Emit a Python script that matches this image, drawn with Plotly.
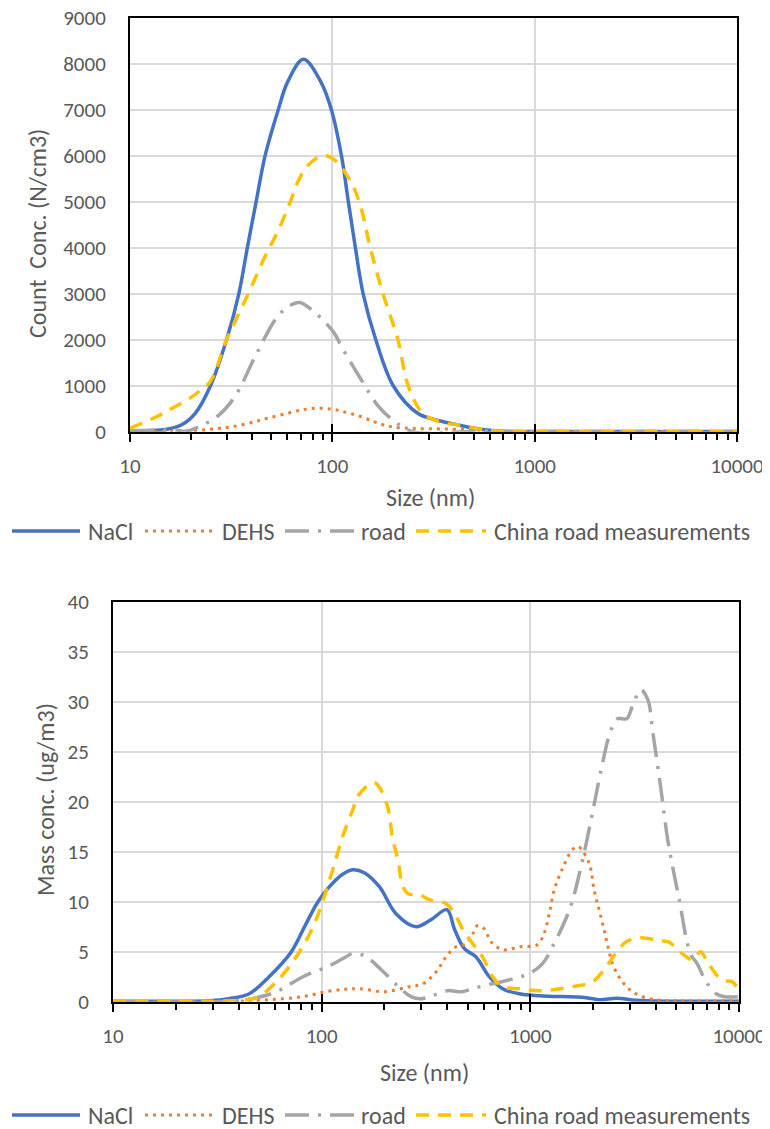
import plotly.graph_objects as go

# ---------------- data: top chart (count concentration, N/cm3) ----------------
nacl_cnt_size = [10, 15, 18, 21, 25, 30, 34.5, 38, 42, 46.5, 54, 60, 72, 88, 99, 111, 120, 130, 142, 164, 200, 264, 330, 415, 550, 700, 1000, 10000]
nacl_cnt = [20, 50, 150, 400, 1000, 2000, 3000, 4000, 5000, 6000, 7000, 7600, 8100, 7600, 7000, 6000, 5000, 4000, 3000, 2000, 1000, 400, 250, 150, 50, 10, 5, 5]

dehs_cnt_size = [10, 15, 18, 22, 27, 32, 40, 47.5, 60, 72, 84, 100, 115, 138, 160, 178, 200, 250, 350, 500, 700, 1000, 10000]
dehs_cnt = [5, 5, 10, 35, 70, 110, 200, 290, 400, 480, 510, 490, 430, 330, 220, 150, 100, 70, 60, 40, 10, 5, 5]

road_cnt_size = [10, 17, 19, 22, 27.5, 33.4, 41.7, 53.5, 62, 69, 81.6, 102, 111, 139, 169, 200, 250, 500, 10000]
road_cnt = [20, 30, 10, 110, 360, 800, 1650, 2500, 2750, 2810, 2600, 2150, 1850, 1130, 550, 250, 0, 5, 5]

china_cnt_size = [10, 13.6, 16, 19.8, 22, 25, 30, 38.4, 47.5, 53, 62, 67, 76, 89, 100, 123, 138, 154, 178, 211, 237, 280, 350, 415, 550, 700, 1000, 10000]
china_cnt = [80, 330, 500, 730, 880, 1100, 2000, 3000, 3900, 4300, 5000, 5400, 5800, 6000, 5950, 5450, 4900, 4000, 3000, 2000, 1000, 400, 200, 150, 50, 10, 5, 5]

# ---------------- data: bottom chart (mass concentration, ug/m3) ----------------
nacl_mass_size = [10, 20, 29, 36, 45, 56, 71.6, 82.8, 96, 109, 125, 141, 160, 189, 227, 283, 334, 398, 434, 483, 548, 636, 736, 884, 1107, 1850, 2150, 2600, 3200, 4500, 10000]
nacl_mass = [0.05, 0.05, 0.1, 0.3, 0.8, 2.5, 5.0, 7.5, 10.0, 11.5, 12.7, 13.2, 12.9, 11.5, 8.8, 7.5, 8.2, 9.2, 7.2, 5.3, 4.5, 2.5, 1.3, 0.8, 0.6, 0.4, 0.2, 0.35, 0.15, 0.05, 0.05]

dehs_mass_size = [10, 30, 40, 56, 81, 105, 130, 152, 200, 263, 306, 354, 395, 441, 494, 530, 557, 600, 648, 736, 897, 1080, 1163, 1232, 1302, 1425, 1590, 1700, 1915, 2020, 2135, 2257, 2345, 2478, 2716, 3088, 3716, 5000, 10000]
dehs_mass = [0, 0, 0.05, 0.2, 0.5, 1.0, 1.25, 1.3, 1.0, 1.5, 1.8, 3.0, 4.5, 5.5, 5.8, 6.8, 7.6, 7.3, 6.0, 5.2, 5.5, 5.7, 6.8, 8.8, 11.2, 13.3, 15.2, 15.5, 13.8, 11.2, 9.2, 7.2, 5.7, 3.8, 2.2, 1.0, 0.3, 0.1, 0.1]

road_mass_size = [10, 30, 40, 48.8, 60.7, 81.4, 109, 131, 140, 160, 193, 228, 268, 300, 340, 400, 470, 530, 624, 730, 860, 990, 1144, 1277, 1540, 1750, 1990, 2200, 2420, 2617, 2896, 3115, 3380, 3655, 3860, 4210, 4570, 5160, 5850, 6300, 6960, 7770, 8500, 10000]
road_mass = [0, 0, 0.1, 0.4, 1.0, 2.5, 3.6, 4.5, 4.8, 4.6, 3.2, 1.7, 0.5, 0.3, 0.6, 1.1, 1.0, 1.3, 1.7, 2.0, 2.4, 2.8, 3.8, 5.5, 9.2, 13.5, 19.0, 23.5, 27.0, 28.3, 28.3, 29.8, 31.2, 30.2, 27.0, 21.5, 16.0, 10.3, 4.8, 3.8, 2.0, 0.8, 0.5, 0.5]

china_mass_size = [10, 30, 40, 48.8, 60.7, 75.6, 91, 101.6, 113, 126, 141, 152, 179, 205, 219, 232, 245, 260, 294, 328, 395, 434, 475, 530, 589, 660, 736, 884, 1107, 1590, 1989, 2257, 2560, 2880, 3380, 4170, 4570, 5356, 5978, 6557, 7050, 7960, 8640, 9300, 10000]
china_mass = [0.05, 0.05, 0.15, 0.4, 2.0, 4.5, 7.5, 10.2, 13.2, 16.5, 19.2, 20.8, 21.9, 19.8, 16.2, 14.2, 11.5, 10.8, 10.7, 10.2, 9.8, 8.8, 7.2, 5.8, 4.5, 2.5, 1.5, 1.3, 1.1, 1.5, 2.0, 3.2, 4.8, 6.0, 6.4, 6.1, 6.0, 4.8, 4.2, 5.0, 4.0, 2.5, 2.1, 2.0, 1.1]

series_names = ["NaCl", "DEHS", "road", "China road measurements"]
x_tick_vals = [10, 100, 1000, 10000]
x_tick_text = ["10", "100", "1000", "10000"]
x_inner_ticks = [100, 1000]
x_minor_vals = [m * 10 ** e for e in range(1, 4) for m in range(2, 10)]
top_y_ticks = list(range(0, 9001, 1000))
bot_y_ticks = list(range(0, 41, 5))
top_y_title = "Count\u00a0\u00a0Conc. (N/cm3)"
bot_y_title = "Mass conc. (ug/m3)"
x_title = "Size (nm)"

# ---------------- styles ----------------
FONT = "Carlito, Calibri, Lato, sans-serif"
FS = 24          # titles / legend
FS_TICK = 21     # tick numbers
TXT = "#595959"
GRID = "#d9d9d9"
styles = [
    dict(color="#4472C4", width=3.5, dash="solid"),
    dict(color="#ED7D31", width=3.0, dash="3px,5px"),
    dict(color="#A5A5A5", width=3.5, dash="24px,9px,3px,9px"),
    dict(color="#FFC000", width=3.5, dash="13px,9px"),
]

# page has an 8px body margin: figure is offset by (8, 8)
OFF = 8
W, H = 770 - OFF, 1129 - OFF
def fx(v):
    return (v - OFF) / W
def fy(v):
    return 1 - (v - OFF) / H

fig = go.Figure()

top_sets = [(nacl_cnt_size, nacl_cnt), (dehs_cnt_size, dehs_cnt), (road_cnt_size, road_cnt), (china_cnt_size, china_cnt)]
bot_sets = [(nacl_mass_size, nacl_mass), (dehs_mass_size, dehs_mass), (road_mass_size, road_mass), (china_mass_size, china_mass)]

for name, (xs, ys), st in zip(series_names, top_sets, styles):
    fig.add_trace(go.Scatter(x=xs, y=ys, name=name, mode="lines", showlegend=False,
                             line=dict(shape="spline", smoothing=1.0, **st),
                             xaxis="x", yaxis="y"))
for name, (xs, ys), st in zip(series_names, bot_sets, styles):
    fig.add_trace(go.Scatter(x=xs, y=ys, name=name, mode="lines", showlegend=False,
                             line=dict(shape="spline", smoothing=1.0, **st),
                             xaxis="x2", yaxis="y2"))
# empty helper traces so the overlay axes (inner half of the major ticks) are drawn
fig.add_trace(go.Scatter(x=[], y=[], xaxis="x3", yaxis="y", showlegend=False, hoverinfo="skip"))
fig.add_trace(go.Scatter(x=[], y=[], xaxis="x4", yaxis="y2", showlegend=False, hoverinfo="skip"))

def xaxis_cfg(domain, anchor):
    return dict(type="log", range=[1, 4], domain=domain, anchor=anchor,
                tickmode="array", tickvals=x_tick_vals, ticktext=x_tick_text,
                ticks="outside", ticklen=8, tickwidth=2, tickcolor="black",
                minor=dict(tickmode="array", tickvals=x_minor_vals, ticks="outside",
                           ticklen=6, tickwidth=1.5, tickcolor="black", showgrid=False),
                showgrid=True, gridcolor=GRID, gridwidth=1.5,
                showline=True, linecolor="black", linewidth=2, mirror=True,
                tickfont=dict(family=FONT, size=FS_TICK, color=TXT),
                ticklabelstandoff=6, ticklabeloverflow="allow",
                automargin=False, zeroline=False, fixedrange=True)

def xaxis_inner_cfg(over, anchor):
    return dict(type="log", range=[1, 4], overlaying=over, anchor=anchor, side="bottom",
                tickmode="array", tickvals=x_inner_ticks, ticks="inside", ticklen=8,
                tickwidth=2, tickcolor="black", showticklabels=False, showgrid=False,
                showline=False, zeroline=False, automargin=False, fixedrange=True)

def yaxis_cfg(domain, anchor, rng, ticks):
    return dict(range=rng, domain=domain, anchor=anchor,
                tickmode="array", tickvals=ticks,
                ticks="", showgrid=True, gridcolor=GRID, gridwidth=1.5,
                showline=True, linecolor="black", linewidth=2, mirror=True,
                tickfont=dict(family=FONT, size=FS_TICK, color=TXT),
                ticklabelstandoff=18, ticklabeloverflow="allow",
                automargin=False, zeroline=False, fixedrange=True)

top_x = [fx(130), fx(737)]
top_y = [fy(431.7), fy(18)]
bot_x = [fx(113), fx(739)]
bot_y = [fy(1001.7), fy(601.7)]

tfont = dict(family=FONT, size=FS, color=TXT)
annotations = [
    dict(text=x_title, x=fx(430), y=fy(497), xanchor="center", yanchor="middle"),
    dict(text=x_title, x=fx(424), y=fy(1072), xanchor="center", yanchor="middle"),
    dict(text=top_y_title, x=fx(37), y=fy(234), textangle=-90, xanchor="center", yanchor="middle"),
    dict(text=bot_y_title, x=fx(45), y=fy(800), textangle=-90, xanchor="center", yanchor="middle"),
]

# custom legends (line sample + label) below each chart
legend_layout = [  # (sample start, sample end, label left) in page pixels
    (12, 80, 86), (145, 212, 220), (285, 354, 359), (416, 486, 492),
]
shapes = []
for row_y in (531, 1115):
    for (x0, x1, tx), name, st in zip(legend_layout, series_names, styles):
        shapes.append(dict(type="line", xref="paper", yref="paper",
                           x0=fx(x0), x1=fx(x1), y0=fy(row_y), y1=fy(row_y),
                           line=dict(color=st["color"], width=st["width"], dash=st["dash"])))
        annotations.append(dict(text=name, x=fx(tx), y=fy(row_y), xanchor="left", yanchor="middle"))

for a in annotations:
    a.update(xref="paper", yref="paper", showarrow=False, font=tfont)

fig.update_layout(
    width=W, height=H,
    margin=dict(l=0, r=0, t=0, b=0),
    paper_bgcolor="white", plot_bgcolor="white",
    showlegend=False,
    xaxis=xaxis_cfg(top_x, "y"),
    yaxis=yaxis_cfg(top_y, "x", [0, 9000], top_y_ticks),
    xaxis2=xaxis_cfg(bot_x, "y2"),
    yaxis2=yaxis_cfg(bot_y, "x2", [0, 40], bot_y_ticks),
    xaxis3=xaxis_inner_cfg("x", "y"),
    xaxis4=xaxis_inner_cfg("x2", "y2"),
    annotations=annotations,
    shapes=shapes,
)

fig.write_html("out.html")
